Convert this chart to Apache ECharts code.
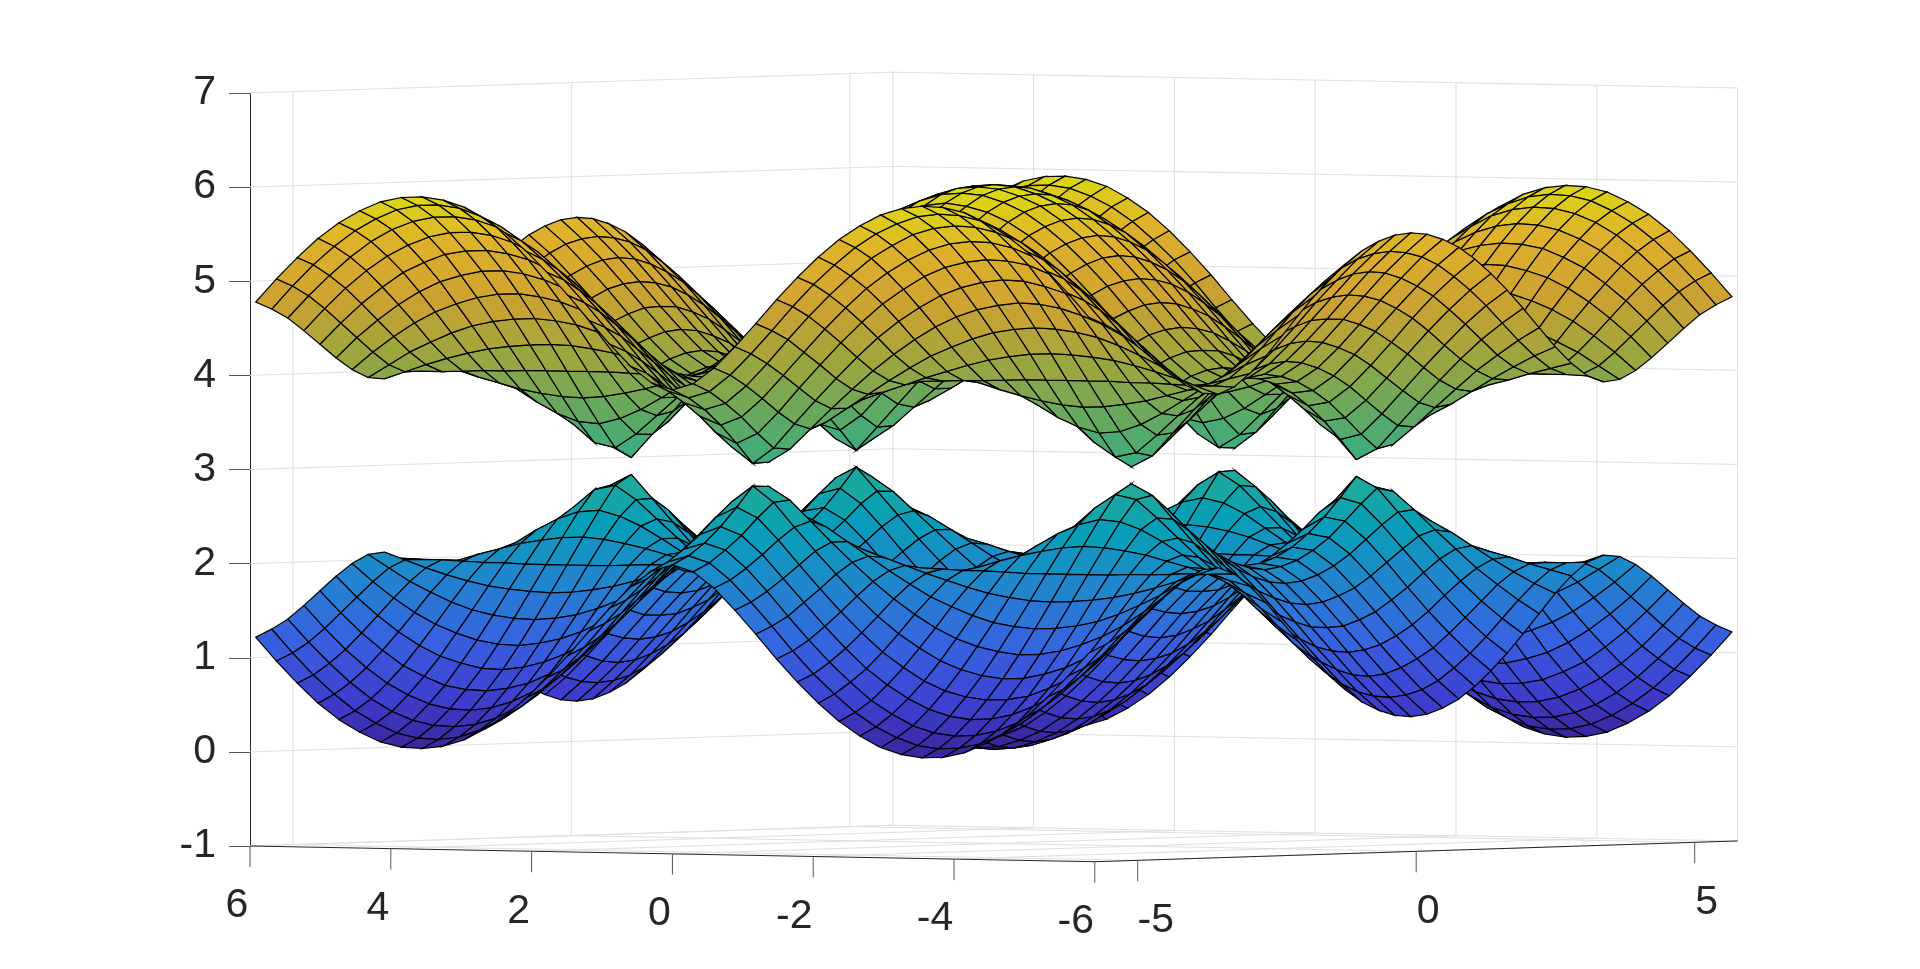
<!DOCTYPE html>
<html>
<head>
<meta charset="utf-8">
<title>surface</title>
<style>
html, body { margin: 0; padding: 0; background: #fff; }
#chart { width: 1920px; height: 969px; }
</style>
<script src="https://cdn.jsdelivr.net/npm/echarts@6/dist/echarts.min.js"></script>
</head>
<body>
<div id="chart"></div>
<script>
const xTicks = [6, 4, 2, 0, -2, -4, -6];
const yTicks = [-5, 0, 5];
const zTicks = [-1, 0, 1, 2, 3, 4, 5, 6, 7];
const xLimit = 6;
const yLimit = 5.77;
const bandCentre = 3;

// grid positions for x >= 0 and y >= 0, the picture is mirror-symmetric in both
const xGrid = [0, 0.296, 0.592, 0.888, 1.184, 1.48, 1.776, 2.072, 2.368, 2.664, 2.96, 3.256, 3.552, 3.848, 4.144, 4.44, 4.736, 5.032, 5.328, 5.624, 5.92];
const yGrid = [0, 0.2885, 0.577, 0.8655, 1.154, 1.4425, 1.731, 2.0195, 2.308, 2.5965, 2.885, 3.1735, 3.462, 3.7505, 4.039, 4.3275, 4.616, 4.9045, 5.193, 5.4815, 5.77];

// distance of each band from z = 3, one row per yGrid value, one column per xGrid value
// hand estimates from a honeycomb shape fitted to the peaks and valleys in the picture,
// not individual pixel readings
const bandGap = [
    [3.00, 2.98, 2.91, 2.81, 2.66, 2.48, 2.27, 2.03, 1.78, 1.52, 1.28, 1.10, 1.00, 1.04, 1.18, 1.40, 1.64, 1.90, 2.15, 2.37, 2.57],
    [2.98, 2.96, 2.89, 2.79, 2.64, 2.46, 2.25, 2.01, 1.76, 1.50, 1.27, 1.08, 0.98, 1.01, 1.16, 1.38, 1.63, 1.88, 2.13, 2.35, 2.55],
    [2.92, 2.90, 2.83, 2.73, 2.58, 2.40, 2.19, 1.96, 1.70, 1.45, 1.21, 1.02, 0.92, 0.95, 1.10, 1.32, 1.57, 1.83, 2.07, 2.30, 2.49],
    [2.82, 2.79, 2.73, 2.63, 2.49, 2.31, 2.10, 1.87, 1.62, 1.36, 1.12, 0.92, 0.82, 0.85, 1.01, 1.24, 1.49, 1.74, 1.98, 2.21, 2.40],
    [2.68, 2.66, 2.59, 2.49, 2.36, 2.18, 1.98, 1.75, 1.50, 1.25, 1.00, 0.79, 0.68, 0.72, 0.89, 1.12, 1.37, 1.63, 1.87, 2.08, 2.27],
    [2.50, 2.48, 2.42, 2.33, 2.19, 2.03, 1.83, 1.61, 1.37, 1.11, 0.86, 0.64, 0.51, 0.55, 0.74, 0.98, 1.24, 1.49, 1.72, 1.93, 2.11],
    [2.30, 2.28, 2.22, 2.13, 2.01, 1.85, 1.66, 1.45, 1.22, 0.97, 0.71, 0.47, 0.31, 0.37, 0.59, 0.84, 1.09, 1.33, 1.56, 1.76, 1.93],
    [2.06, 2.05, 2.00, 1.91, 1.80, 1.66, 1.48, 1.29, 1.07, 0.84, 0.59, 0.34, 0.09, 0.21, 0.46, 0.71, 0.95, 1.18, 1.39, 1.57, 1.73],
    [1.81, 1.79, 1.75, 1.68, 1.58, 1.45, 1.31, 1.14, 0.95, 0.75, 0.55, 0.35, 0.20, 0.25, 0.44, 0.65, 0.85, 1.05, 1.22, 1.38, 1.52],
    [1.54, 1.53, 1.49, 1.44, 1.36, 1.26, 1.15, 1.03, 0.89, 0.75, 0.62, 0.52, 0.46, 0.48, 0.56, 0.68, 0.82, 0.96, 1.09, 1.21, 1.31],
    [1.26, 1.25, 1.23, 1.20, 1.15, 1.10, 1.04, 0.98, 0.91, 0.85, 0.80, 0.76, 0.74, 0.75, 0.78, 0.82, 0.88, 0.94, 1.01, 1.07, 1.13],
    [0.97, 0.97, 0.97, 0.98, 0.98, 0.99, 1.00, 1.01, 1.01, 1.02, 1.03, 1.03, 1.03, 1.03, 1.03, 1.02, 1.02, 1.01, 1.00, 1.00, 0.99],
    [0.68, 0.70, 0.74, 0.80, 0.88, 0.96, 1.04, 1.11, 1.18, 1.24, 1.28, 1.31, 1.32, 1.31, 1.29, 1.26, 1.21, 1.15, 1.08, 1.00, 0.92],
    [0.40, 0.45, 0.56, 0.71, 0.86, 1.01, 1.15, 1.28, 1.38, 1.47, 1.54, 1.58, 1.60, 1.59, 1.56, 1.51, 1.43, 1.33, 1.22, 1.08, 0.94],
    [0.13, 0.27, 0.49, 0.71, 0.92, 1.12, 1.30, 1.46, 1.60, 1.71, 1.79, 1.84, 1.87, 1.86, 1.82, 1.75, 1.66, 1.54, 1.39, 1.22, 1.03],
    [0.12, 0.29, 0.55, 0.80, 1.04, 1.27, 1.48, 1.66, 1.81, 1.94, 2.03, 2.09, 2.12, 2.11, 2.06, 1.99, 1.88, 1.74, 1.57, 1.38, 1.16],
    [0.34, 0.45, 0.68, 0.94, 1.19, 1.43, 1.65, 1.85, 2.01, 2.15, 2.25, 2.31, 2.34, 2.33, 2.29, 2.20, 2.09, 1.93, 1.75, 1.54, 1.31],
    [0.54, 0.63, 0.83, 1.08, 1.33, 1.58, 1.81, 2.02, 2.19, 2.33, 2.44, 2.51, 2.54, 2.53, 2.48, 2.39, 2.27, 2.11, 1.92, 1.70, 1.46],
    [0.71, 0.78, 0.97, 1.21, 1.47, 1.72, 1.95, 2.16, 2.35, 2.49, 2.61, 2.68, 2.71, 2.70, 2.65, 2.56, 2.43, 2.26, 2.06, 1.84, 1.60],
    [0.84, 0.91, 1.09, 1.32, 1.57, 1.83, 2.07, 2.28, 2.47, 2.62, 2.73, 2.81, 2.84, 2.83, 2.78, 2.68, 2.55, 2.38, 2.18, 1.95, 1.70],
    [0.93, 1.00, 1.17, 1.40, 1.65, 1.91, 2.15, 2.37, 2.56, 2.71, 2.83, 2.90, 2.93, 2.92, 2.87, 2.77, 2.64, 2.47, 2.26, 2.03, 1.78],
];

// parula colormap stops
const parula = [
    [62, 38, 168], [71, 71, 235], [62, 111, 255], [39, 150, 235], [8, 181, 208],
    [49, 198, 159], [113, 191, 110], [178, 188, 70], [232, 184, 55], [253, 200, 50], [249, 251, 21],
];
const colorMin = 0;
const colorMax = 6;
// the reference mesh is much denser, its lines darken the fill overall
const fillShade = 0.88;

const pxPerX = -70.4;
const pxPerY = 55.7;
const pxPerZ = 94.1;
const riseX = 1.31;
const riseY = 1.8;

// view: the value axis reads z on the left wall, the hidden axis is the horizontal pixel offset
const project = (x, y, z) => [
    pxPerX * x + pxPerY * y,
    z + (riseX * (x - xLimit) + riseY * (y + yLimit)) / pxPerZ,
];

const colorOf = (z) => {
    const t = Math.max(0, Math.min(1, (z - colorMin) / (colorMax - colorMin))) * (parula.length - 1);
    const i = Math.min(parula.length - 2, Math.floor(t));
    const f = t - i;
    const c = parula[i].map((v, k) => Math.round((v + (parula[i + 1][k] - v) * f) * fillShade));
    return `rgb(${c[0]},${c[1]},${c[2]})`;
};

const mirror = arr => [...arr.slice(1).reverse().map(v => -v), ...arr];
const xAll = mirror(xGrid);
const yAll = mirror(yGrid);
const gapAt = (ix, iy) => bandGap[Math.abs(iy - yGrid.length + 1)][Math.abs(ix - xGrid.length + 1)];

// far corner first so nearer cells paint over farther ones
const buildCells = (sign) => {
    const cells = [];
    for (let iy = yAll.length - 2; iy >= 0; iy--) {
        for (let ix = xAll.length - 2; ix >= 0; ix--) {
            const corners = [[ix, iy], [ix + 1, iy], [ix + 1, iy + 1], [ix, iy + 1]];
            const value = [];
            let sum = 0;
            corners.forEach(([a, b]) => {
                const z = bandCentre + sign * gapAt(a, b);
                sum += z;
                value.push(...project(xAll[a], yAll[b], z));
            });
            value.push(sum / 4);
            cells.push(value);
        }
    }
    return cells;
};

const wallLines = [];
const zBottom = zTicks[0];
const zTop = zTicks[zTicks.length - 1];
zTicks.forEach((z) => {
    wallLines.push([xLimit, -yLimit, z, xLimit, yLimit, z]);
    wallLines.push([xLimit, yLimit, z, -xLimit, yLimit, z]);
});
yTicks.forEach((y) => {
    wallLines.push([xLimit, y, zBottom, xLimit, y, zTop]);
    wallLines.push([xLimit, y, zBottom, -xLimit, y, zBottom]);
});
xTicks.forEach((x) => {
    wallLines.push([x, yLimit, zBottom, x, yLimit, zTop]);
    wallLines.push([x, yLimit, zBottom, x, -yLimit, zBottom]);
});

const floorAxes = [
    [xLimit, -yLimit, zBottom, -xLimit, -yLimit, zBottom],
    [-xLimit, -yLimit, zBottom, -xLimit, yLimit, zBottom],
];

const tickItems = [
    ...xTicks.map(x => [x, -yLimit, zBottom, String(x), x < 0 ? -19 : -13]),
    ...yTicks.map(y => [-xLimit, y, zBottom, String(y), y < 0 ? 18 : 12]),
];

const lineSeries = (data, stroke, width) => ({
    type: 'custom',
    coordinateSystem: 'cartesian2d',
    silent: true,
    clip: false,
    animation: false,
    data,
    renderItem(params, api) {
        const a = project(api.value(0), api.value(1), api.value(2));
        const b = project(api.value(3), api.value(4), api.value(5));
        const p = api.coord(a);
        const q = api.coord(b);
        return {
            type: 'line',
            shape: { x1: p[0], y1: p[1], x2: q[0], y2: q[1] },
            style: { stroke, lineWidth: width },
        };
    },
});

const surfaceSeries = data => ({
    type: 'custom',
    coordinateSystem: 'cartesian2d',
    silent: true,
    clip: false,
    animation: false,
    progressive: 0,
    data,
    renderItem(params, api) {
        const points = [0, 2, 4, 6].map(k => api.coord([api.value(k), api.value(k + 1)]));
        return {
            type: 'polygon',
            shape: { points },
            style: { fill: colorOf(api.value(8)), stroke: '#000', lineWidth: 1.2 },
        };
    },
});

const option = {
    backgroundColor: '#fff',
    animation: false,
    grid: { left: 250, top: 93, width: 1487.6, height: 753, containLabel: false },
    xAxis: { type: 'value', min: -743.8, max: 743.8, show: false },
    yAxis: {
        type: 'value',
        min: zBottom,
        max: zTop,
        interval: 1,
        splitLine: { show: false },
        axisLine: { show: true, onZero: false, lineStyle: { color: '#262626', width: 1 } },
        axisTick: { show: true, length: 21, lineStyle: { color: '#555', width: 1 } },
        axisLabel: {
            margin: 34,
            color: '#262626',
            fontSize: 41,
            fontFamily: 'Liberation Sans',
            customValues: zTicks,
        },
    },
    series: [
        lineSeries(wallLines, '#dfdfdf', 1),
        lineSeries(floorAxes, '#262626', 1),
        {
            type: 'custom',
            coordinateSystem: 'cartesian2d',
            silent: true,
            clip: false,
            animation: false,
            data: tickItems,
            renderItem(params, api) {
                const item = tickItems[params.dataIndex];
                const p = api.coord(project(item[0], item[1], item[2]));
                return {
                    type: 'group',
                    children: [
                        {
                            type: 'line',
                            shape: { x1: p[0], y1: p[1], x2: p[0], y2: p[1] + 21 },
                            style: { stroke: '#555', lineWidth: 1 },
                        },
                        {
                            type: 'text',
                            x: p[0] + item[4],
                            y: p[1] + 60,
                            style: {
                                text: item[3],
                                fill: '#262626',
                                font: '41px "Liberation Sans"',
                                textAlign: 'center',
                                textVerticalAlign: 'middle',
                            },
                        },
                    ],
                };
            },
        },
        surfaceSeries(buildCells(-1)),
        surfaceSeries(buildCells(1)),
    ],
};

const instanceChart = echarts.init(document.getElementById('chart'), null, { renderer: 'canvas' });
instanceChart.setOption(option);
</script>
</body>
</html>
